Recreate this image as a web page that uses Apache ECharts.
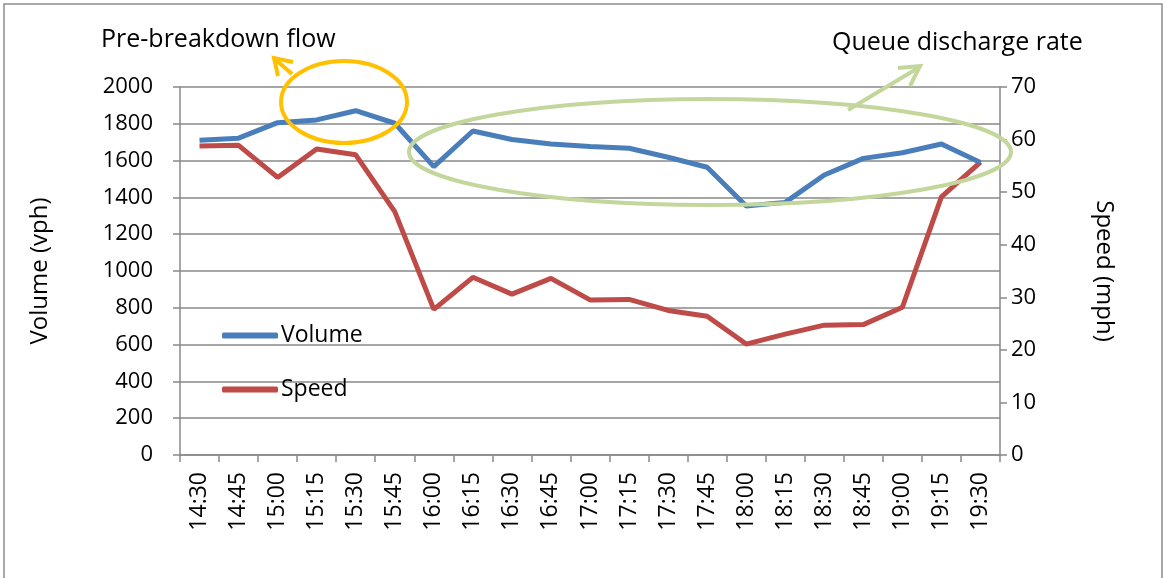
<!DOCTYPE html>
<html>
<head>
<meta charset="utf-8">
<script src="https://cdn.jsdelivr.net/npm/echarts@6/dist/echarts.min.js"></script>
<style>
  html, body { margin: 0; padding: 0; background: #fff; }
  #chart { width: 1165px; height: 578px; }
</style>
</head>
<body>
<div id="chart"></div>
<script>
// time of day, 15 min bins
const times = ["14:30", "14:45", "15:00", "15:15", "15:30", "15:45", "16:00", "16:15", "16:30", "16:45",
  "17:00", "17:15", "17:30", "17:45", "18:00", "18:15", "18:30", "18:45", "19:00", "19:15", "19:30"];
// volume (vph), left axis
const volume = [1710, 1722, 1806, 1821, 1871, 1803, 1567, 1761, 1715, 1690,
  1676, 1667, 1618, 1564, 1353, 1373, 1522, 1612, 1643, 1690, 1590];
// speed (mph), right axis
const speed = [58.8, 58.9, 52.8, 58.2, 57.1, 46.3, 27.7, 33.8, 30.6, 33.6,
  29.5, 29.6, 27.5, 26.4, 21.1, 23.0, 24.7, 24.8, 28.1, 49.1, 55.7];

const FONT = "'Open Sans', 'Noto Sans', sans-serif";
const GRID_COLOR = "#898989";

const chart = echarts.init(document.getElementById("chart"));

chart.setOption({
  animation: false,
  textStyle: { fontFamily: FONT },
  grid: { left: 180, right: 165, top: 87, bottom: 123 },
  legend: {
    orient: "vertical",
    left: 217,
    top: 319,
    itemWidth: 56,
    itemHeight: 6,
    itemGap: 31,
    icon: "roundRect",
    textStyle: { fontFamily: FONT, fontSize: 23, color: "#000", padding: [0, 0, 0, -2] },
    data: ["Volume", "Speed"]
  },
  xAxis: {
    type: "category",
    data: times,
    boundaryGap: true,
    axisLine: { lineStyle: { color: GRID_COLOR, width: 1.5 } },
    axisTick: { show: true, length: 7, interval: 0, lineStyle: { color: GRID_COLOR, width: 1.5 } },
    axisLabel: { interval: 0, rotate: 90, margin: 17, fontSize: 23, color: "#000", fontFamily: FONT }
  },
  yAxis: [
    {
      type: "value",
      name: "Volume (vph)",
      nameLocation: "middle",
      nameRotate: 90,
      nameGap: 128,
      nameTextStyle: { fontSize: 24, color: "#000", fontFamily: FONT },
      min: 0,
      max: 2000,
      interval: 200,
      axisLine: { show: true, lineStyle: { color: GRID_COLOR, width: 1.5 } },
      axisTick: { show: true, length: 7, lineStyle: { color: GRID_COLOR, width: 1.5 } },
      axisLabel: { margin: 27, fontSize: 22, color: "#000", fontFamily: FONT, formatter: (v) => String(v) },
      splitLine: { lineStyle: { color: GRID_COLOR, width: 1.5 } }
    },
    {
      type: "value",
      name: "Speed (mph)",
      nameLocation: "middle",
      nameRotate: -90,
      nameGap: 92,
      nameTextStyle: { fontSize: 24, color: "#000", fontFamily: FONT },
      min: 0,
      max: 70,
      interval: 10,
      position: "right",
      axisLine: { show: true, lineStyle: { color: GRID_COLOR, width: 1.5 } },
      axisTick: { show: true, length: 7, lineStyle: { color: GRID_COLOR, width: 1.5 } },
      axisLabel: { margin: 11, fontSize: 22, color: "#000", fontFamily: FONT },
      splitLine: { show: false }
    }
  ],
  series: [
    {
      name: "Volume",
      type: "line",
      yAxisIndex: 0,
      data: volume,
      showSymbol: false,
      symbol: "none",
      z: 3,
      lineStyle: { color: "#4A7EBB", width: 5 },
      itemStyle: { color: "#4A7EBB" }
    },
    {
      name: "Speed",
      type: "line",
      yAxisIndex: 1,
      data: speed,
      showSymbol: false,
      symbol: "none",
      z: 2,
      lineStyle: { color: "#BE4B48", width: 5 },
      itemStyle: { color: "#BE4B48" }
    }
  ],
  graphic: [
    // outer frame
    {
      type: "rect",
      shape: { x: 4, y: 4, width: 1158, height: 600 },
      style: { fill: "none", stroke: "#8c8c8c", lineWidth: 1.5 },
      silent: true
    },
    // annotation: pre-breakdown flow
    {
      type: "ellipse",
      shape: { cx: 344, cy: 102, rx: 63, ry: 41 },
      style: { fill: "none", stroke: "#FFC000", lineWidth: 4 },
      z: 10
    },
    {
      type: "polyline",
      shape: { points: [[292, 74], [276, 60]] },
      style: { stroke: "#FFC000", lineWidth: 4, fill: "none" },
      z: 10
    },
    {
      type: "polyline",
      shape: { points: [[278, 76], [274, 58], [293, 62]] },
      style: { stroke: "#FFC000", lineWidth: 4, fill: "none" },
      z: 10
    },
    {
      type: "text",
      left: 101,
      top: 27,
      style: { text: "Pre-breakdown flow", fontSize: 25, fontFamily: FONT, fill: "#000" }
    },
    // annotation: queue discharge rate
    {
      type: "ellipse",
      shape: { cx: 710, cy: 152, rx: 301, ry: 53 },
      style: { fill: "none", stroke: "#C3D69B", lineWidth: 4 },
      z: 10
    },
    {
      type: "polyline",
      shape: { points: [[848, 110], [918, 68]] },
      style: { stroke: "#C3D69B", lineWidth: 4, fill: "none" },
      z: 10
    },
    {
      type: "polyline",
      shape: { points: [[898, 68], [920, 66], [910, 86]] },
      style: { stroke: "#C3D69B", lineWidth: 4, fill: "none" },
      z: 10
    },
    {
      type: "text",
      left: 832,
      top: 30,
      style: { text: "Queue discharge rate", fontSize: 25, fontFamily: FONT, fill: "#000" }
    }
  ]
});
</script>
</body>
</html>
